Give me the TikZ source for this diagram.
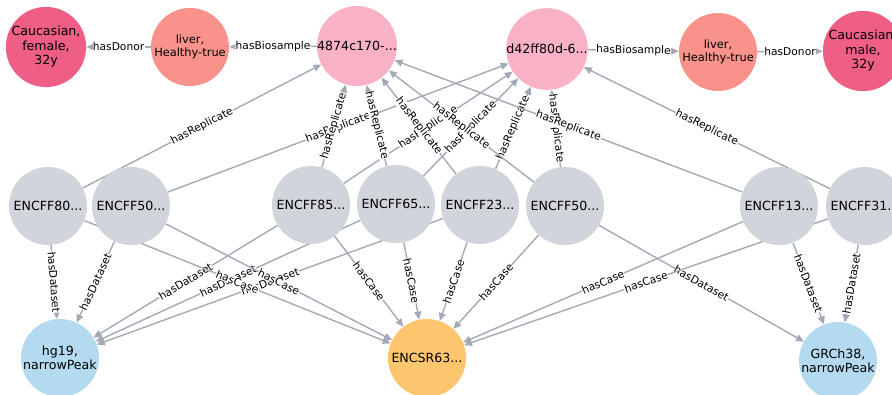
\documentclass[tikz,border=0pt]{standalone}
\usepackage{fontspec}
\setmainfont{DejaVu Sans}
\usetikzlibrary{arrows.meta,backgrounds}

\definecolor{donorcol}{HTML}{EF5E85}
\definecolor{livercol}{HTML}{F9928A}
\definecolor{expcol}{HTML}{F8B1C5}
\definecolor{filecol}{HTML}{D1D5DB}
\definecolor{refcol}{HTML}{B4DAF0}
\definecolor{casecol}{HTML}{FDC56E}
\definecolor{edgecol}{HTML}{A3A9B6}

\begin{document}
\begin{tikzpicture}[x=1pt,y=-1pt]

    % `entity' is used for every circle.
    % `rel' is used for the arrows, `lbl' for their names.
    \tikzstyle{entity} = [circle,inner sep=0pt,minimum size=78pt,align=center,font=\fontsize{12.6}{14.5}\selectfont]
    \tikzstyle{rel} = [draw=edgecol,line width=1.4pt,-{Triangle[length=8pt,width=7pt]}]
    \tikzstyle{lbl} = [sloped,midway,fill=white,inner sep=0.3pt,font=\fontsize{10.7}{11}\selectfont]
    %
    \useasboundingbox (0,0) rectangle (892,394);
    \clip (0,0) rectangle (892,394);

    % Top row.
    \node[entity,fill=donorcol] (donor1) at (46,47) {Caucasian,\\female,\\32y};
    \node[entity,fill=livercol,font=\fontsize{11.4}{13.5}\selectfont] (liver1) at (190,47) {liver,\\Healthy-true};
    \node[entity,fill=expcol] (exp1) at (357,46) {4874c170-...};
    \node[entity,fill=expcol] (exp2) at (547,49) {d42ff80d-6...};
    \node[entity,fill=livercol,font=\fontsize{11.4}{13.5}\selectfont] (liver2) at (718,52) {liver,\\Healthy-true};
    \node[entity,fill=donorcol] (donor2) at (863,51) {Caucasian,\\male,\\32y};

    % Middle row.
    \node[entity,fill=filecol] (file1) at (48,206) {ENCFF80...};
    \node[entity,fill=filecol] (file2) at (131,206) {ENCFF50...};
    \node[entity,fill=filecol] (file3) at (311,205) {ENCFF85...};
    \node[entity,fill=filecol] (file4) at (396,204) {ENCFF65...};
    \node[entity,fill=filecol] (file5) at (480,205) {ENCFF23...};
    \node[entity,fill=filecol] (file6) at (565,206) {ENCFF50...};
    \node[entity,fill=filecol] (file7) at (779,206) {ENCFF13...};
    \node[entity,fill=filecol] (file8) at (865,206) {ENCFF31...};

    % Bottom row.
    \node[entity,fill=refcol] (hg) at (60,358) {hg19,\\narrowPeak};
    \node[entity,fill=casecol] (case) at (427,358) {ENCSR63...};
    \node[entity,fill=refcol] (grch) at (838,361) {GRCh38,\\narrowPeak};

    \begin{pgfonlayer}{background}
        % Draw arrows.
        \draw[rel] (liver1) -- node[lbl] {hasDonor} (donor1);
        \draw[rel] (liver2) -- node[lbl] {hasDonor} (donor2);
        \draw[rel] (exp1) -- node[lbl] {hasBiosample} (liver1);
        \draw[rel] (exp2) -- node[lbl] {hasBiosample} (liver2);

        \draw[rel] (file1) -- node[lbl] {hasReplicate} (exp1);
        \draw[rel] (file2) -- node[lbl] {hasReplicate} (exp2);
        \draw[rel] (file3) -- node[lbl] {hasReplicate} (exp1);
        \draw[rel] (file3) -- node[lbl] {hasReplicate} (exp2);
        \draw[rel] (file4) -- node[lbl] {hasReplicate} (exp1);
        \draw[rel] (file4) -- node[lbl] {hasReplicate} (exp2);
        \draw[rel] (file5) -- node[lbl] {hasReplicate} (exp1);
        \draw[rel] (file5) -- node[lbl] {hasReplicate} (exp2);
        \draw[rel] (file6) -- node[lbl] {hasReplicate} (exp1);
        \draw[rel] (file6) -- node[lbl] {hasReplicate} (exp2);
        \draw[rel] (file7) -- node[lbl] {hasReplicate} (exp1);
        \draw[rel] (file8) -- node[lbl] {hasReplicate} (exp2);

        \draw[rel] (file1) -- node[lbl] {hasDataset} (hg);
        \draw[rel] (file2) -- node[lbl] {hasDataset} (hg);
        \draw[rel] (file3) -- node[lbl] {hasDataset} (hg);
        \draw[rel] (file4) -- node[lbl] {hasDataset} (hg);
        \draw[rel] (file5) -- node[lbl] {hasDataset} (hg);
        \draw[rel] (file6) -- node[lbl] {hasDataset} (grch);
        \draw[rel] (file7) -- node[lbl] {hasDataset} (grch);
        \draw[rel] (file8) -- node[lbl] {hasDataset} (grch);

        \draw[rel] (file1) -- node[lbl] {hasCase} (case);
        \draw[rel] (file2) -- node[lbl] {hasCase} (case);
        \draw[rel] (file3) -- node[lbl] {hasCase} (case);
        \draw[rel] (file4) -- node[lbl] {hasCase} (case);
        \draw[rel] (file5) -- node[lbl] {hasCase} (case);
        \draw[rel] (file6) -- node[lbl] {hasCase} (case);
        \draw[rel] (file7) -- node[lbl] {hasCase} (case);
        \draw[rel] (file8) -- node[lbl] {hasCase} (case);
    \end{pgfonlayer}
    %
\end{tikzpicture}
\end{document}
